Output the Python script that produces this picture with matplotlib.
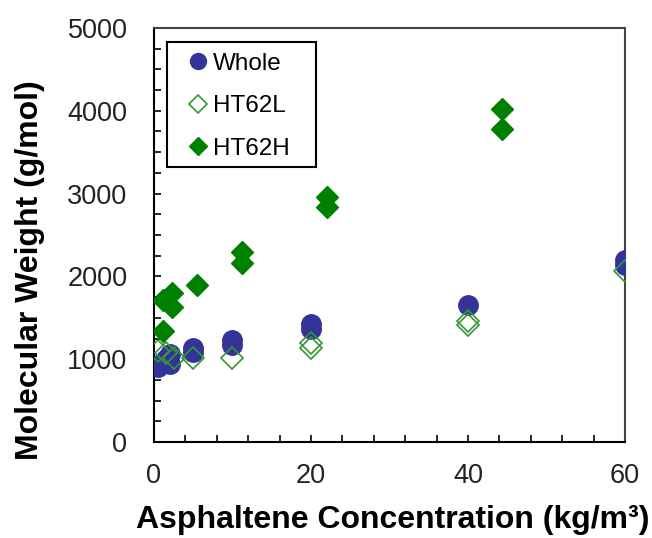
import matplotlib
matplotlib.use("Agg")
import matplotlib.pyplot as plt
from matplotlib.ticker import MultipleLocator
from matplotlib.patches import Rectangle

plt.rcParams['font.family'] = ['Liberation Sans', 'DejaVu Sans']

whole_x = [0.5, 1.0, 1.5, 2.0, 2.0, 5.0, 5.0, 10.0, 10.0, 20.0, 20.0, 40.0, 60.0, 60.0]
whole_y = [900, 950, 1000, 1060, 940, 1090, 1135, 1170, 1230, 1370, 1420, 1650, 2140, 2200]

l_x = [0.5, 1.5, 2.5, 5.0, 10.0, 20.0, 20.0, 40.0, 40.0, 60.0]
l_y = [1100, 1080, 1020, 1010, 1010, 1130, 1200, 1410, 1460, 2060]

h_x = [1.2, 1.2, 2.3, 2.3, 5.5, 11.2, 11.2, 22.1, 22.1, 44.3, 44.3]
h_y = [1340, 1715, 1635, 1800, 1900, 2160, 2295, 2842, 2963, 3777, 4018]

xticks = [0, 20, 40, 60]
yticks = [0, 1000, 2000, 3000, 4000, 5000]

fig = plt.figure(figsize=(6.52, 5.38), dpi=100)
ax = fig.add_axes([0.236, 0.1784, 0.7226, 0.7696])

ax.plot(whole_x, whole_y, 'o', ms=14, color='#333399', mec='#333399', label='Whole', zorder=3)
ax.plot(l_x, l_y, 'D', ms=11, mfc='none', mec='#339933', mew=1.2, label='HT62L', zorder=4)
ax.plot(h_x, h_y, 'D', ms=11, color='#008000', mec='#008000', label='HT62H', zorder=5)

ax.set_xlim(0, 60)
ax.set_ylim(0, 5000)
ax.set_xticks(xticks)
ax.set_yticks(yticks)
ax.xaxis.set_minor_locator(MultipleLocator(4))
ax.yaxis.set_minor_locator(MultipleLocator(250))
ax.tick_params(which='both', direction='in', length=5, width=1.2, labelsize=19.5, color='black',
               labelcolor='#222222')
ax.tick_params(axis='y', pad=19)
ax.tick_params(axis='x', pad=15)
for s in ['left', 'bottom']:
    ax.spines[s].set_linewidth(1.5)
    ax.spines[s].set_color('black')
for s in ['top', 'right']:
    ax.spines[s].set_linewidth(1.5)
    ax.spines[s].set_color('#444444')

ax.set_xlabel('Asphaltene Concentration (kg/m³)', fontsize=23, fontweight='bold')
ax.set_ylabel('Molecular Weight (g/mol)', fontsize=23, fontweight='bold')
ax.xaxis.set_label_coords(0.507, -0.188)
ax.yaxis.set_label_coords(-0.263, 0.415)
ax.xaxis.label.set_va('center')
ax.yaxis.label.set_va('center')

# legend frame
ax.add_patch(Rectangle((0.0276, 0.664), 0.3164, 0.302, transform=ax.transAxes,
                       fill=True, facecolor='white', edgecolor='black', lw=1.5, zorder=6))
leg = ax.legend(loc='upper left', bbox_to_anchor=(0.078, 0.940), fontsize=17.5, markerscale=0.82,
                handlelength=0.6, handletextpad=0.32, labelspacing=0.84, borderpad=0,
                borderaxespad=0, frameon=False)
leg.set_zorder(7)

fig.savefig('out.png', dpi=100)
